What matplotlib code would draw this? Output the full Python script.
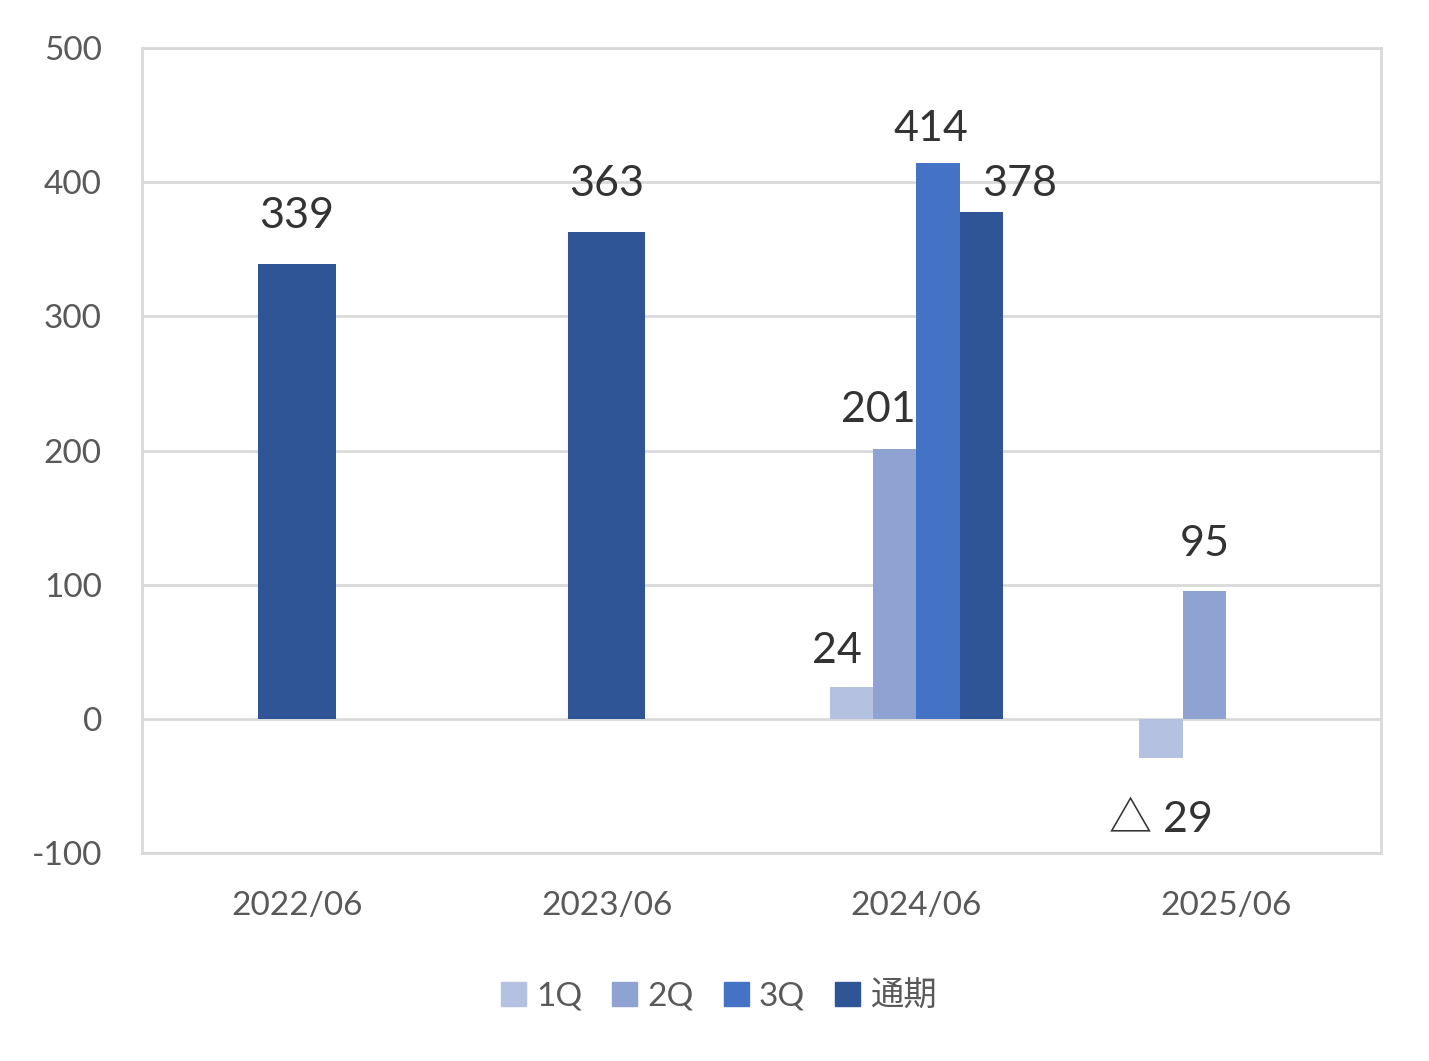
import numpy as np
import matplotlib.pyplot as plt

plt.rcParams['font.family'] = ['Lato', 'Noto Sans CJK JP', 'DejaVu Sans']
plt.rcParams['axes.unicode_minus'] = False

categories = ['2022/06', '2023/06', '2024/06', '2025/06']
series_names = ['1Q', '2Q', '3Q', '通期']
q1 = [np.nan, np.nan, 24, -29]
q2 = [np.nan, np.nan, 201, 95]
q3 = [np.nan, np.nan, 414, np.nan]
full_year = [339, 363, 378, np.nan]
colors = ['#B4C1E1', '#8FA3D3', '#4472C4', '#2F5597']

# which bars get a label, and label nudges in pixels (dx, dy)
label_offsets = {
    (0, 3): (0, 48), (1, 3): (0, 48),
    (2, 0): (-14, 36), (2, 1): (-16, 39), (2, 2): (-7, 34), (2, 3): (38, 28),
    (3, 0): (0, -62), (3, 1): (0, 47),
}

fig = plt.figure(figsize=(14.29, 10.61), dpi=100)
ax = fig.add_axes([0.0994, 0.196, 0.867, 0.7588])

all_series = [q1, q2, q3, full_year]
slot_w = 0.14
for ci in range(len(categories)):
    vals = [s[ci] for s in all_series]
    present = [i for i, v in enumerate(vals) if not np.isnan(v)]
    for si in present:
        v = vals[si]
        if len(present) == 1:
            x, w = ci, 0.25
        else:
            x, w = ci + (si - 1.5) * slot_w, slot_w
        ax.bar(x, v, width=w, color=colors[si], zorder=3, linewidth=0)
        if (ci, si) in label_offsets:
            dx, dy = label_offsets[(ci, si)]
            txt = f'△ {abs(v):.0f}' if v < 0 else f'{v:.0f}'
            ax.annotate(txt, (x, v), xytext=(dx, dy), textcoords='offset pixels',
                        ha='center', va='center', fontsize=31, color='#333333',
                        zorder=4)

ax.set_xlim(-0.5, 3.5)
ax.set_ylim(-100, 500)
ax.set_yticks(range(-100, 501, 100))
ax.set_xticks(range(len(categories)))
ax.set_xticklabels(categories)
ax.grid(axis='y', color='#D9D9D9', linewidth=2, zorder=0)
for sp in ax.spines.values():
    sp.set_color('#D9D9D9')
    sp.set_linewidth(2)
ax.tick_params(axis='both', length=0, labelsize=24, colors='#595959')
ax.tick_params(axis='x', pad=27)
ax.tick_params(axis='y', pad=29)

handles = [plt.Rectangle((0, 0), 1, 1, color=c) for c in colors]
fig.legend(handles, series_names, loc='center', bbox_to_anchor=(0.503, 0.061),
           ncol=4, frameon=False, fontsize=24, handlelength=0.75, handleheight=0.75,
           handletextpad=0.3, columnspacing=0.9, labelcolor='#595959')

fig.savefig('out.png', dpi=100)
